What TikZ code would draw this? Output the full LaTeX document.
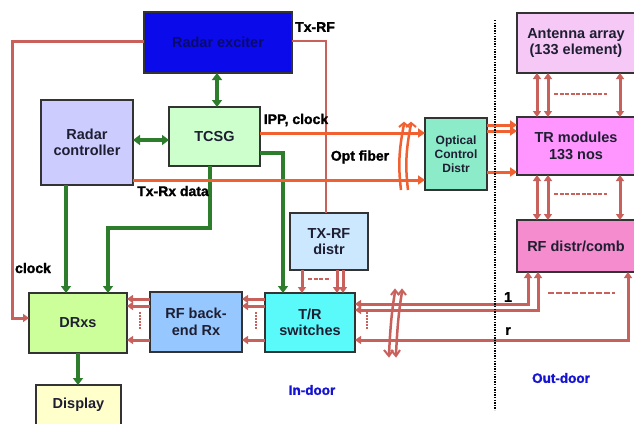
\documentclass[tikz,border=0pt]{standalone}
\usepackage{fontspec}
\setmainfont{Liberation Sans}
\usetikzlibrary{arrows.meta}
\definecolor{rl}{RGB}{200,96,92}
\definecolor{gl}{RGB}{45,125,45}
\definecolor{ol}{RGB}{240,96,48}
\definecolor{txt}{RGB}{30,30,50}
\definecolor{excF}{RGB}{10,10,235}
\definecolor{excT}{RGB}{10,10,110}
\definecolor{ctlF}{RGB}{204,204,255}
\definecolor{tcsgF}{RGB}{204,255,204}
\definecolor{optF}{RGB}{140,235,200}
\definecolor{antF}{RGB}{245,200,245}
\definecolor{trmF}{RGB}{255,150,255}
\definecolor{rfdF}{RGB}{245,140,205}
\definecolor{txrF}{RGB}{204,232,255}
\definecolor{trsF}{RGB}{90,250,250}
\definecolor{rfbF}{RGB}{150,200,255}
\definecolor{drxF}{RGB}{204,255,153}
\definecolor{dispF}{RGB}{255,255,204}
\definecolor{doorT}{RGB}{20,20,210}
\begin{document}
\begin{tikzpicture}[x=1pt,y=-1pt,
  box/.style={draw=black!80, line width=1.3pt, outer sep=0pt, inner sep=1pt, align=center,
     text=txt, font=\bfseries\fontsize{14.5}{16.5}\selectfont},
  lbl/.style={font=\bfseries\fontsize{14}{15}\selectfont\addfontfeatures{FakeBold=1.5}, text=black, inner sep=0pt},
  door/.style={font=\bfseries\fontsize{13.5}{14}\selectfont\addfontfeatures{FakeBold=1.5}, text=doorT, inner sep=0pt},
  gar/.style={draw=gl, line width=4.5pt, -{Triangle[length=7pt,width=10pt]}},
  gdar/.style={draw=gl, line width=4.5pt, {Triangle[length=7pt,width=10pt]}-{Triangle[length=7pt,width=10pt]}},
  rar/.style={draw=rl, line width=3pt, -{Triangle[length=6pt,width=8pt]}},
  rdar/.style={draw=rl, line width=3pt, {Triangle[length=6pt,width=8pt]}-{Triangle[length=6pt,width=8pt]}},
  oar/.style={draw=ol, line width=3pt, -{Triangle[length=7pt,width=9pt]}},
  rdash/.style={draw=rl, line width=2.5pt, dash pattern=on 4pt off 1.5pt},
  rdot/.style={draw=rl, line width=1.8pt, dash pattern=on 1.5pt off 1.5pt}
]
\useasboundingbox (0,0) rectangle (634,423);
\clip (0,0) rectangle (634,423);
\fill[white] (0,0) rectangle (634,423);

% boxes
\node[box, fill=excF, text=excT, minimum width=148pt, minimum height=61pt] (exc) at (218,42.5) {Radar exciter};
\node[box, fill=ctlF, minimum width=92pt, minimum height=85pt] (ctl) at (87,142.5) {Radar\\controller};
\node[box, fill=tcsgF, minimum width=91pt, minimum height=59pt] (tcsg) at (214.5,136.5) {TCSG};
\node[box, fill=optF, minimum width=62pt, minimum height=72pt, font=\bfseries\fontsize{12}{14}\selectfont] (opt) at (456,154) {Optical\\Control\\Distr};
\node[box, fill=antF, minimum width=118pt, minimum height=60pt] (ant) at (576,43) {Antenna array\\(133 element)};
\node[box, fill=trmF, minimum width=118pt, minimum height=58pt] (trm) at (576,146) {TR modules\\133 nos};
\node[box, fill=rfdF, minimum width=118pt, minimum height=52pt] (rfd) at (576,246) {RF distr/comb};
\node[box, fill=txrF, minimum width=78pt, minimum height=57pt] (txr) at (329,241.5) {TX-RF\\distr};
\node[box, fill=trsF, minimum width=90pt, minimum height=59pt] (trs) at (310,322.5) {T/R\\switches};
\node[box, fill=rfbF, minimum width=92pt, minimum height=60pt] (rfb) at (196,322) {RF back-\\end Rx};
\node[box, fill=drxF, minimum width=98pt, minimum height=60pt] (drx) at (78,323) {DRxs};
\node[box, fill=dispF, minimum width=85pt, minimum height=40pt, anchor=north] (disp) at (78.5,385) {\raisebox{4pt}{Display}};

% red: exciter -> DRxs clock
\coordinate (c1) at (12,41);
\coordinate (c2) at (12,318);
\draw[rar] (exc.west |- c1) -- (c1) -- (c2) -- (drx.west |- c2);
% Tx-RF
\coordinate (t1) at (326,41);
\draw[draw=rl, line width=2.5pt] (exc.east |- t1) -- (t1) -- (txr.north -| t1);

% green
\draw[gdar] (exc.south -| 217,0) -- (tcsg.north -| 217,0);
\draw[gdar] (ctl.east |- 0,140) -- (tcsg.west |- 0,140);
\draw[gar] (ctl.south -| 66,0) -- (drx.north -| 66,0);
\coordinate (g1) at (210,228);
\coordinate (g2) at (108,228);
\draw[gar] (tcsg.south -| g1) -- (g1) -- (g2) -- (drx.north -| g2);
\coordinate (g3) at (283,153);
\draw[gar] (tcsg.east |- g3) -- (g3) -- (trs.north -| g3);
\draw[gar] (drx.south -| 78,0) -- (disp.north -| 78,0);

% orange
\draw[oar] (tcsg.east |- 0,133) -- (opt.west |- 0,133);
\draw[oar] (ctl.east |- 0,180) -- (opt.west |- 0,180);
\draw[oar] (opt.east |- 0,125) -- (trm.west |- 0,125);
\draw[oar] (opt.east |- 0,131) -- (trm.west |- 0,131);
\draw[oar] (opt.east |- 0,172) -- (trm.west |- 0,172);
% orange bundle marks
\draw[ol, line width=2.5pt] (404,124) .. controls (399,150) and (398,165) .. (401,190);
\draw[ol, line width=2.5pt] (411,124) .. controls (406,150) and (405,165) .. (408,190);
\draw[ol, line width=2pt] (399,127) -- (404,123) -- (409,127);
\draw[ol, line width=2pt] (406,127) -- (411,123) -- (416,127);

% red arrows antenna <-> TR <-> RF distr
\foreach \xx in {537,548,620}{
  \draw[rdar] (ant.south -| \xx,0) -- (trm.north -| \xx,0);
  \draw[rdar] (trm.south -| \xx,0) -- (rfd.north -| \xx,0);
}
\draw[rdash] (554,94) -- (607,94);
\draw[rdash] (554,194) -- (607,194);
\draw[draw=rl, line width=1.5pt, dash pattern=on 6pt off 2pt] (548,293) -- (615,293);

% TX-RF distr -> T/R switches
\foreach \xx in {302,337,343}{
  \draw[rar] (txr.south -| \xx,0) -- (trs.north -| \xx,0);
}
\draw[rdash] (308,279) -- (330,279);

% T/R -> RF back-end -> DRxs
\foreach \yy in {299,306,340}{
  \draw[rar] (trs.west |- 0,\yy) -- (rfb.east |- 0,\yy);
  \draw[rar] (rfb.west |- 0,\yy) -- (drx.east |- 0,\yy);
}
\draw[rdot] (256,312) -- (256,330);
\draw[rdot] (140,312) -- (140,330);
\draw[rdot] (367,312) -- (367,330);

% T/R <-> RF distr
\coordinate (r1) at (528,304);
\coordinate (r2) at (538,310);
\coordinate (r3) at (628,340);
\draw[rdar] (trs.east |- r1) -- (r1) -- (rfd.south -| r1);
\draw[rdar] (trs.east |- r2) -- (r2) -- (rfd.south -| r2);
\draw[rdar] (trs.east |- r3) -- (r3) -- (rfd.south -| r3);
% red bundle marks
\draw[rl, line width=2.5pt] (395,292) .. controls (391,315) and (390,335) .. (389,354);
\draw[rl, line width=2.5pt] (402,292) .. controls (398,315) and (397,335) .. (396,354);
\draw[rl, line width=2pt] (384,350) -- (389,356) -- (393,350);
\draw[rl, line width=2pt] (391,350) -- (396,356) -- (400,350);
\draw[rl, line width=2pt] (391,295) -- (395,290) -- (399,295);
\draw[rl, line width=2pt] (398,295) -- (402,290) -- (406,295);

% divider
\draw[black, line width=2pt, dash pattern=on 1.3pt off 1.3pt] (495,20) -- (495,410);

% labels
\node[lbl] (lt) at (315,27) {Tx-RF};
\node[lbl] (li) at (296,120) {IPP, clock};
\node[lbl] (lo) at (360,157) {Opt fiber};
\node[lbl] (ld) at (173,191) {Tx-Rx data};
\node[lbl] (lc) at (33,268) {clock};
\node[lbl] (l1) at (508,297) {1};
\node[lbl] (lr) at (508,331) {r};
\node[door] (ind) at (312,390) {In-door};
\node[door] (outd) at (561,378) {Out-door};
\end{tikzpicture}
\end{document}
